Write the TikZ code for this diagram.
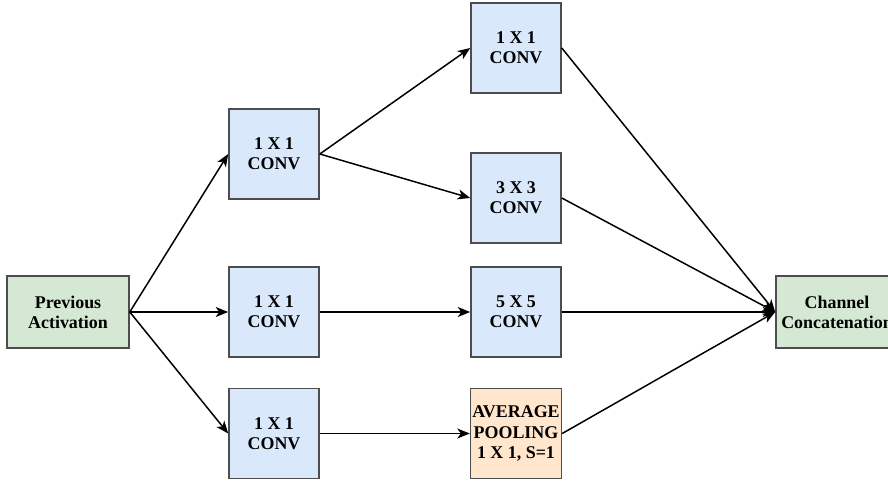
\documentclass[tikz,border=0pt]{standalone}
\usepackage{fontspec}
\setmainfont{Liberation Serif}
\usetikzlibrary{arrows.meta}
\definecolor{convblue}{HTML}{DAE8FC}
\definecolor{actgreen}{HTML}{D5E8D4}
\definecolor{poolorange}{HTML}{FFE6CC}
\definecolor{boxline}{HTML}{4D4D4D}
\begin{document}
\begin{tikzpicture}[
    box/.style={draw=boxline,line width=0.9pt,align=center,font=\fontsize{10.2}{11.5}\selectfont\bfseries,inner sep=1pt},
    conv/.style={box,fill=convblue,minimum width=1.8cm,minimum height=1.8cm},
    ends/.style={box,fill=actgreen,minimum width=2.44cm,minimum height=1.44cm},
    link/.style={line width=0.85pt,-{Stealth[length=2.5mm,width=2mm,inset=0.7mm]}}
  ]
  \useasboundingbox (0,0) rectangle (17.76,9.6);
  % input and output
  \node[ends] (prev) at (1.36,3.36) {Previous\\Activation};
  \node[ends] (concat) at (16.74,3.36) {Channel\\Concatenation};
  % first column
  \node[conv] (reduceA) at (5.48,6.52) {1 X 1\\CONV};
  \node[conv] (reduceB) at (5.48,3.36) {1 X 1\\CONV};
  \node[conv] (reduceC) at (5.48,0.93) {1 X 1\\CONV};
  % second column
  \node[conv] (convA) at (10.32,8.64) {1 X 1\\CONV};
  \node[conv] (convB) at (10.32,5.64) {3 X 3\\CONV};
  \node[conv] (convC) at (10.32,3.36) {5 X 5\\CONV};
  \node[conv,fill=poolorange] (pool) at (10.32,0.93) {AVERAGE\\POOLING\\1 X 1, S=1};
  % connectors
  \draw[link] (prev.east) -- (reduceA.west);
  \draw[link] (prev.east) -- (reduceB.west);
  \draw[link] (prev.east) -- (reduceC.west);
  \draw[link] (reduceA.east) -- (convA.west);
  \draw[link] (reduceA.east) -- (convB.west);
  \draw[link] (reduceB.east) -- (convC.west);
  \draw[link] (reduceC.east) -- (pool.west);
  \foreach \src in {convA,convB,convC,pool}
    \draw[link] (\src.east) -- (concat.west);
\end{tikzpicture}
\end{document}
